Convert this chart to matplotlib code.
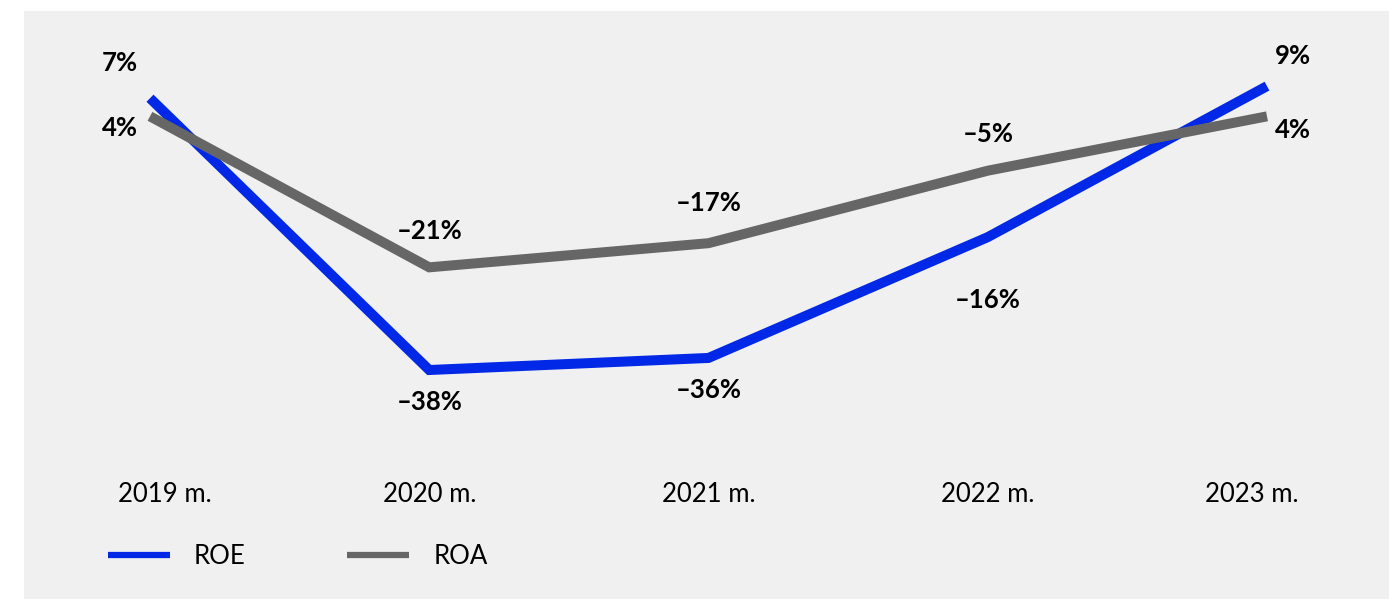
import matplotlib
matplotlib.use("Agg")
import matplotlib.pyplot as plt
from matplotlib.patches import Rectangle
from matplotlib.transforms import ScaledTranslation

# Data
years = ["2019 m.", "2020 m.", "2021 m.", "2022 m.", "2023 m."]
roe = [7, -38, -36, -16, 9]
roa = [4, -21, -17, -5, 4]

# label offsets in pixels (dx, dy), dy positive = up
roe_offsets = [(-30, 35), (0, -32), (0, -32), (0, -63), (26, 30)]
roa_offsets = [(-30, -12), (0, 36), (0, 40), (0, 37), (26, -14)]

blue = "#0028e6"
grey = "#666666"
bg = "#f0f0f0"

plt.rcParams["font.family"] = ["Lato", "DejaVu Sans"]

W, H = 1389, 599
fig = plt.figure(figsize=(W / 100, H / 100), dpi=100)
fig.patch.set_facecolor("white")
fig.patches.append(Rectangle((24 / W, 0), 1, 1 - 11 / H, transform=fig.transFigure,
                             facecolor=bg, edgecolor="none", zorder=-10))

top_px, bot_px = 11, 470
ax = fig.add_axes([24 / W, 1 - bot_px / H, 1 - 24 / W, (bot_px - top_px) / H])
ax.set_facecolor("none")

x = list(range(len(years)))
ax.plot(x, roe, color=blue, lw=7.2, solid_capstyle="butt", solid_joinstyle="miter", label="ROE")
ax.plot(x, roa, color=grey, lw=7.2, solid_capstyle="butt", solid_joinstyle="miter", label="ROA")

xs = (1267 - 150) / 4
ax.set_xlim((24 - 150) / xs, (W - 150) / xs)
ys = 6.04
zero = 140.5
ax.set_ylim(-(bot_px - zero) / ys, (zero - top_px) / ys)


def fmt(v):
    # en dash for negatives, like the original
    return ("\u2013" if v < 0 else "") + f"{abs(v)}%"


for i in x:
    for vals, offs in ((roe, roe_offsets), (roa, roa_offsets)):
        dx, dy = offs[i]
        ax.annotate(fmt(vals[i]), (i, vals[i]), xytext=(dx * 0.72, dy * 0.72),
                    textcoords="offset points", ha="center", va="center",
                    fontsize=18.5, fontweight="bold", color="black")

ax.set_xticks(x)
ax.set_xticklabels(years, fontsize=18.5)
ax.tick_params(axis="x", length=0, pad=9)
ax.set_yticks([])
for s in ax.spines.values():
    s.set_visible(False)

labels = ax.get_xticklabels()
labels[0].set_transform(labels[0].get_transform() + ScaledTranslation(0.15, 0, fig.dpi_scale_trans))
labels[-1].set_transform(labels[-1].get_transform() + ScaledTranslation(-0.15, 0, fig.dpi_scale_trans))

leg = fig.legend(loc="center left", bbox_to_anchor=(108 / W, 1 - 556 / H), ncol=2,
                 frameon=False, fontsize=18.5, handlelength=2.4, handletextpad=0.95,
                 columnspacing=3.95, borderpad=0, borderaxespad=0)
for ln in leg.get_lines():
    ln.set_linewidth(4.5)

fig.savefig("out.png", dpi=100)
